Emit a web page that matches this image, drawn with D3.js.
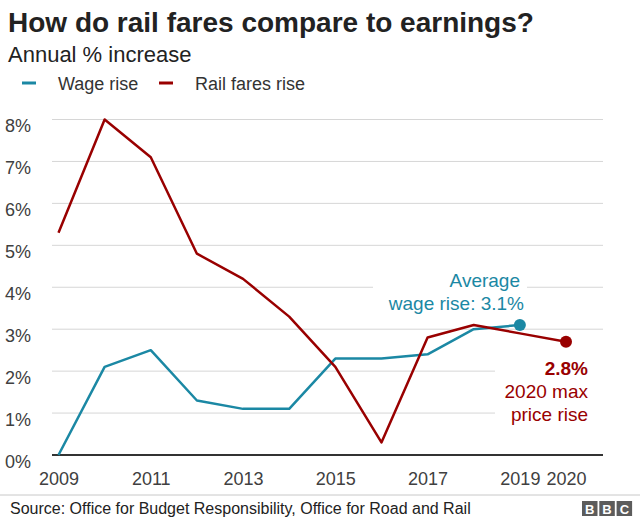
<!DOCTYPE html>
<html>
<head>
<meta charset="utf-8">
<script src="https://cdn.jsdelivr.net/npm/d3@7"></script>
<style>
  html, body { margin: 0; padding: 0; background: #fff; }
  svg { display: block; font-family: "Liberation Sans", Arial, Helvetica, sans-serif; }
</style>
</head>
<body>
<svg id="chart" width="640" height="520"></svg>
<script>
// ---- Data ----
const years = [2009, 2010, 2011, 2012, 2013, 2014, 2015, 2016, 2017, 2018, 2019, 2020];
const wageRise = [0, 2.1, 2.5, 1.3, 1.1, 1.1, 2.3, 2.3, 2.4, 3.0, 3.1, null];
const railRise = [5.3, 8.0, 7.1, 4.8, 4.2, 3.3, 2.1, 0.3, 2.8, 3.1, 2.9, 2.7];
const xTickYears = [2009, 2011, 2013, 2015, 2017, 2019, 2020];
const yTicks = [0, 1, 2, 3, 4, 5, 6, 7, 8];
const seriesNames = ["Wage rise", "Rail fares rise"];
const titleText = "How do rail fares compare to earnings?";
const subtitleText = "Annual % increase";
const sourceText = "Source: Office for Budget Responsibility, Office for Road and Rail";
const wageNote = ["Average", "wage rise: 3.1%"];
const railNote = ["2.8%", "2020 max", "price rise"];

const BLUE = "#1b88a4";
const RED = "#990000";

const svg = d3.select("#chart");

const x = d3.scaleLinear().domain([2009, 2020]).range([58.5, 566]);
const y = d3.scaleLinear().domain([0, 8]).range([455, 119.5]);
const gridLeft = 52, gridRight = 603;

// Title & subtitle
svg.append("text").attr("x", 8).attr("y", 32)
  .attr("font-size", 28).attr("font-weight", "bold").attr("fill", "#222")
  .text(titleText);
svg.append("text").attr("x", 8).attr("y", 62)
  .attr("font-size", 22).attr("fill", "#222")
  .text(subtitleText);

// Legend
const legend = svg.append("g");
const legendItems = [
  { name: seriesNames[0], color: BLUE, x0: 22, tx: 58 },
  { name: seriesNames[1], color: RED, x0: 159, tx: 195 }
];
legendItems.forEach(d => {
  legend.append("line").attr("x1", d.x0).attr("x2", d.x0 + 14)
    .attr("y1", 83).attr("y2", 83)
    .attr("stroke", d.color).attr("stroke-width", 3);
  legend.append("text").attr("x", d.tx).attr("y", 89.5)
    .attr("font-size", 18).attr("fill", "#333").text(d.name);
});

// Gridlines
const grid = svg.append("g");
grid.selectAll("line").data(yTicks.filter(t => t > 0)).join("line")
  .attr("x1", gridLeft).attr("x2", gridRight)
  .attr("y1", d => y(d)).attr("y2", d => y(d))
  .attr("stroke", "#d6d6d6").attr("stroke-width", 1);

// Y axis labels
const yAxis = d3.axisLeft(y).tickValues(yTicks).tickFormat(d => d + "%").tickSize(0);
const yg = svg.append("g").attr("transform", "translate(0,0)").call(yAxis);
yg.select(".domain").remove();
yg.selectAll("text")
  .attr("x", 5).attr("dy", 12).attr("text-anchor", "start")
  .attr("font-size", 18).attr("fill", "#404040")
  .attr("font-family", "Liberation Sans, Arial, sans-serif");

// X axis labels
const xAxis = d3.axisBottom(x).tickValues(xTickYears).tickFormat(d3.format("d")).tickSize(0);
const xg = svg.append("g").attr("transform", "translate(0,455)").call(xAxis);
xg.select(".domain").remove();
xg.selectAll("text")
  .attr("y", 30).attr("dy", 0)
  .attr("font-size", 18).attr("fill", "#404040")
  .attr("font-family", "Liberation Sans, Arial, sans-serif");

// Annotation backgrounds (white, masking gridlines)
svg.append("rect").attr("x", 373).attr("y", 268).attr("width", 154).attr("height", 48).attr("fill", "#fff");
svg.append("rect").attr("x", 495).attr("y", 352).attr("width", 112).attr("height", 78).attr("fill", "#fff");

// Zero line
svg.append("line").attr("x1", gridLeft).attr("x2", gridRight)
  .attr("y1", y(0)).attr("y2", y(0))
  .attr("stroke", "#333").attr("stroke-width", 2);

// Lines
const line = d3.line()
  .defined(d => d.v !== null)
  .x(d => x(d.year)).y(d => y(d.v));

const wageData = years.map((yr, i) => ({ year: yr, v: wageRise[i] }));
const railData = years.map((yr, i) => ({ year: yr, v: railRise[i] }));

svg.append("path").datum(wageData).attr("d", line)
  .attr("fill", "none").attr("stroke", BLUE).attr("stroke-width", 2.5)
  .attr("stroke-linejoin", "round");
svg.append("path").datum(railData).attr("d", line)
  .attr("fill", "none").attr("stroke", RED).attr("stroke-width", 2.5)
  .attr("stroke-linejoin", "round");

// End dots
const lastWage = wageData.filter(d => d.v !== null).slice(-1)[0];
const lastRail = railData.filter(d => d.v !== null).slice(-1)[0];
svg.append("circle").attr("cx", x(lastWage.year)).attr("cy", y(lastWage.v)).attr("r", 6).attr("fill", BLUE);
svg.append("circle").attr("cx", x(lastRail.year)).attr("cy", y(lastRail.v)).attr("r", 6).attr("fill", RED);

// Annotations
svg.append("text").attr("x", 520).attr("y", 287).attr("text-anchor", "end")
  .attr("font-size", 19).attr("fill", BLUE).text(wageNote[0]);
svg.append("text").attr("x", 524).attr("y", 310).attr("text-anchor", "end")
  .attr("font-size", 19).attr("fill", BLUE).text(wageNote[1]);

svg.append("text").attr("x", 588).attr("y", 375).attr("text-anchor", "end")
  .attr("font-size", 19).attr("font-weight", "bold").attr("fill", RED).text(railNote[0]);
svg.append("text").attr("x", 588).attr("y", 398).attr("text-anchor", "end")
  .attr("font-size", 19).attr("fill", RED).text(railNote[1]);
svg.append("text").attr("x", 588).attr("y", 421).attr("text-anchor", "end")
  .attr("font-size", 19).attr("fill", RED).text(railNote[2]);

// Footer
svg.append("line").attr("x1", 0).attr("x2", 640).attr("y1", 495).attr("y2", 495)
  .attr("stroke", "#c8c8c8").attr("stroke-width", 1);
svg.append("text").attr("x", 10).attr("y", 514)
  .attr("font-size", 16).attr("fill", "#222").text(sourceText);

// BBC logo
const logo = svg.append("g");
["B", "B", "C"].forEach((ch, i) => {
  const bx = 582 + i * 17.3;
  logo.append("rect").attr("x", bx).attr("y", 501).attr("width", 15.5).attr("height", 15).attr("fill", "#5c5c5c");
  logo.append("text").attr("x", bx + 7.75).attr("y", 513.5).attr("text-anchor", "middle")
    .attr("font-size", 13).attr("font-weight", "bold").attr("fill", "#fff").text(ch);
});
</script>
</body>
</html>
